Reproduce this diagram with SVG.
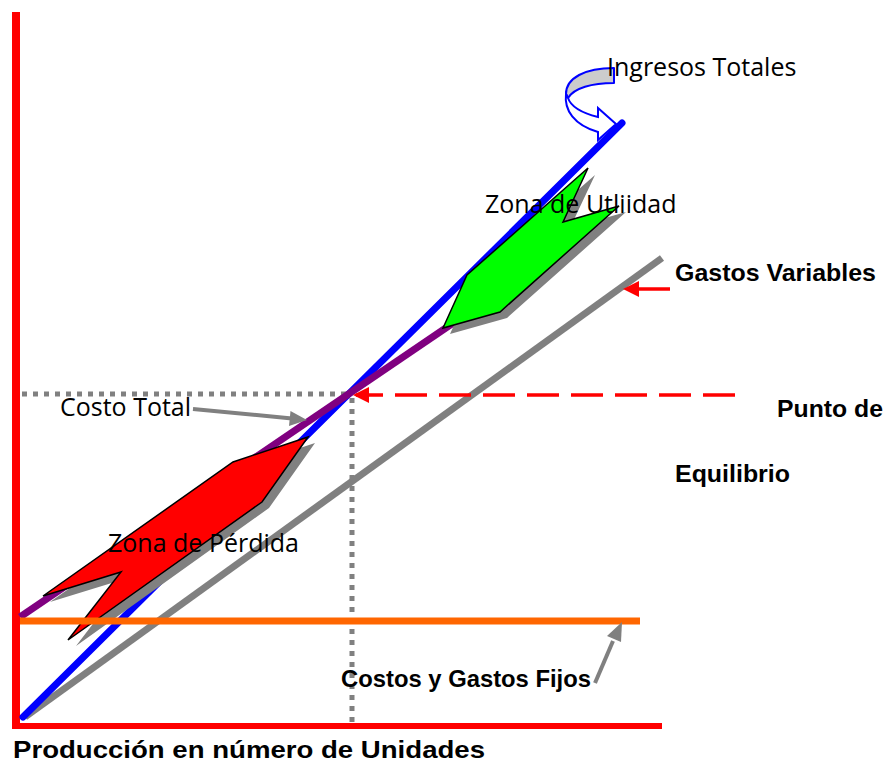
<svg xmlns="http://www.w3.org/2000/svg" width="891" height="765" viewBox="0 0 891 765">
<defs>
<style>
.reg{font-family:"Open Sans","Liberation Sans",sans-serif;font-size:25px;fill:#000}
.bold{font-family:"Liberation Sans",Arial,sans-serif;font-weight:bold;font-size:24px;fill:#000}
.dot{stroke:#808080;stroke-width:5;stroke-dasharray:5 6;fill:none}
.shadow{fill:#808080;stroke:none}
</style>
<marker id="redHead" markerWidth="6" markerHeight="6" refX="5" refY="3" orient="auto" markerUnits="strokeWidth">
<path d="M0,0 L6,3 L0,6 Z" fill="#ff0000"/>
</marker>
<marker id="redHead2" markerWidth="5" markerHeight="5" refX="4.5" refY="2.5" orient="auto" markerUnits="strokeWidth">
<path d="M0,0 L5,2.5 L0,5 Z" fill="#ff0000"/>
</marker>
<marker id="grayHead" markerWidth="5" markerHeight="4" refX="4.5" refY="2" orient="auto" markerUnits="strokeWidth">
<path d="M0,0 L5,2 L0,4 Z" fill="#808080"/>
</marker>
</defs>
<rect width="891" height="765" fill="#ffffff"/>

<g id="axes">
<line x1="16" y1="12" x2="16" y2="729" stroke="#ff0000" stroke-width="8"/>
<line x1="12" y1="726" x2="662" y2="726" stroke="#ff0000" stroke-width="6"/>
</g>

<g id="guides">
<line class="dot" x1="22" y1="394" x2="350" y2="394"/>
<line class="dot" x1="352" y1="398" x2="352" y2="723"/>
</g>

<g id="lines">
<line id="gastos-variables-line" x1="25" y1="717" x2="662" y2="258" stroke="#808080" stroke-width="7"/>
<line id="ingresos-line" x1="23" y1="717" x2="622" y2="123" stroke="#0000ff" stroke-width="7" stroke-linecap="round"/>
<line id="costo-total-line" x1="20" y1="617" x2="462" y2="317" stroke="#800080" stroke-width="7"/>
</g>

<g id="zona-perdida">
<polygon class="shadow" points="315,443 269,508 76,646 128,578 50,602 240,468"/>
<polygon points="308,437 262,502 68,640 121,572 43,596 233,462" fill="#ff0000" stroke="#000" stroke-width="1.5" stroke-linejoin="miter"/>
</g>

<g id="zona-utilidad">
<polygon class="shadow" points="595,175 570,228 626,212 507,318 450,334 474,281"/>
<polygon points="588,168 563,222 619,206 500,312 443,328 467,275" fill="#00ff00" stroke="#000" stroke-width="1.5"/>
</g>

<g id="costos-fijos-line">
<line x1="20" y1="621" x2="640" y2="621" stroke="#ff6600" stroke-width="7"/>
</g>

<g id="connectors">
<line x1="735" y1="395" x2="356" y2="395" stroke="#ff0000" stroke-width="3.5" stroke-dasharray="32 12" />
<path d="M353,395 L369,387 L369,403 Z" fill="#ff0000"/>
<line x1="670" y1="289" x2="638" y2="289" stroke="#ff0000" stroke-width="3.5"/>
<path d="M623,289 L639,281 L639,297 Z" fill="#ff0000"/>
<line x1="193" y1="409" x2="292" y2="418.5" stroke="#808080" stroke-width="4"/>
<path d="M307,420 L289,426 L290.5,411 Z" fill="#808080"/>
<line x1="595" y1="683" x2="613" y2="641" stroke="#808080" stroke-width="4"/>
<path d="M622,622 L621,642 L607,636 Z" fill="#808080"/>
</g>

<g id="ingresos-arrow">
<path d="M614,68 L614,83 C592,83 574,88 568,98 L566,94 C566,78 585,68 614,68 Z" fill="#cccccc" stroke="#0000ff" stroke-width="2" stroke-linejoin="round"/>
<path d="M566,94 C564,110 574,125 598,132 L598,140 L616,124 L598,108 L598,117 C582,113 571,107 568,98 Z" fill="#ffffff" stroke="#0000ff" stroke-width="2" stroke-linejoin="miter"/>
</g>

<g id="labels">
<text class="reg" x="607" y="76">Ingresos Totales</text>
<text class="reg" x="485" y="213">Zona de Utliidad</text>
<text class="reg" x="60" y="416">Costo Total</text>
<text class="reg" x="108" y="552">Zona de Pérdida</text>
<text class="bold" x="675" y="281" textLength="201" lengthAdjust="spacingAndGlyphs">Gastos Variables</text>
<text class="bold" x="777" y="417" textLength="106" lengthAdjust="spacingAndGlyphs">Punto de</text>
<text class="bold" x="675" y="482" textLength="115" lengthAdjust="spacingAndGlyphs">Equilibrio</text>
<text class="bold" x="341" y="687" textLength="250" lengthAdjust="spacingAndGlyphs">Costos y Gastos Fijos</text>
<text class="bold" x="13" y="758" font-size="25.5" textLength="472" lengthAdjust="spacingAndGlyphs">Producción en número de Unidades</text>
</g>
</svg>
